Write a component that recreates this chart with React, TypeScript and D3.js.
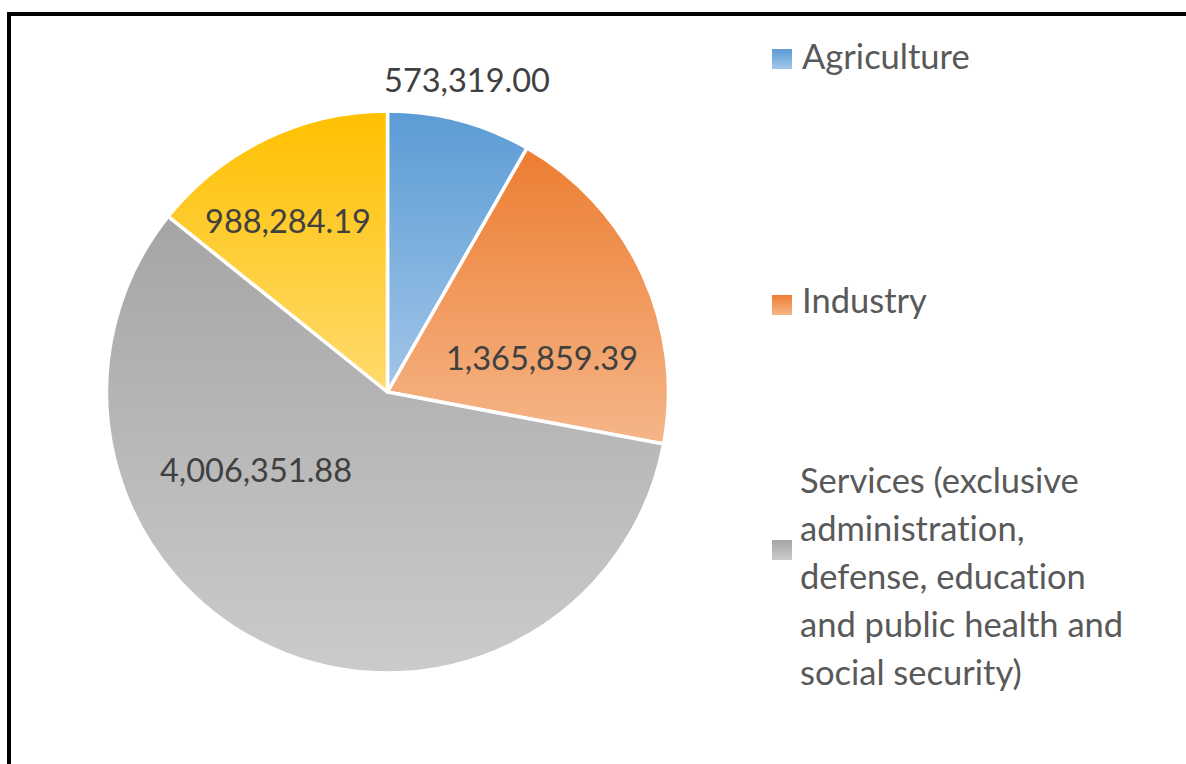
import React from "react";
import * as d3 from "d3";

const categories = [
  "Agriculture",
  "Industry",
  "Services (exclusive administration, defense, education and public health and social security)",
  "Administration, defense, education and public health and social security",
];
const values = [573319.0, 1365859.39, 4006351.88, 988284.19];
const valueLabels = ["573,319.00", "1,365,859.39", "4,006,351.88", "988,284.19"];
const topColors = ["#5B9BD5", "#ED7D31", "#A5A5A5", "#FFC000"];
const bottomColors = ["#A2C6E8", "#F5B689", "#CBCBCB", "#FFDB6E"];
const legendCount = 3;
const servicesLines = [
  "Services (exclusive",
  "administration,",
  "defense, education",
  "and public health and",
  "social security)",
];

const W = 1186;
const H = 764;
const cx = 387.5;
const cy = 392;
const R = 281;

// label anchor positions (centre x, baseline y)
const labelPos: [number, number][] = [
  [467, 92],
  [542, 370],
  [256, 482],
  [288, 233],
];

export default function App() {
  const pie = d3
    .pie<number>()
    .sort(null)
    .value((d) => d)
    .startAngle(0)
    .endAngle(2 * Math.PI);
  const arcs = pie(values);
  const arcGen = d3.arc<d3.PieArcDatum<number>>().innerRadius(0).outerRadius(R);

  const font = "Lato, 'Open Sans', sans-serif";

  return (
    <svg
      width={W}
      height={H}
      style={{
        position: "absolute",
        left: 0,
        top: 0,
        background: "#fff",
        fontVariantLigatures: "none",
      }}
    >
      <defs>
        {arcs.map((a, i) => (
          <linearGradient key={i} id={`g${i}`} x1="0" y1="0" x2="0" y2="1">
            <stop offset="0" stopColor={topColors[i]} />
            <stop offset="1" stopColor={bottomColors[i]} />
          </linearGradient>
        ))}
      </defs>
      <rect x={0} y={0} width={W} height={H} fill="#fff" />
      {/* frame */}
      <path d={`M9,${H + 10} V14 H${W + 10}`} fill="none" stroke="#000" strokeWidth={4} />

      <g transform={`translate(${cx},${cy})`}>
        {arcs.map((a, i) => (
          <path
            key={i}
            d={arcGen(a) || ""}
            fill={`url(#g${i})`}
            stroke="#fff"
            strokeWidth={3.5}
            strokeLinejoin="round"
          />
        ))}
      </g>

      {arcs.map((a, i) => (
        <text
          key={i}
          x={labelPos[i][0]}
          y={labelPos[i][1]}
          textAnchor="middle"
          fontFamily={font}
          fontSize={32.5}
          fill="#404040"
        >
          {valueLabels[i]}
        </text>
      ))}

      {/* legend */}
      <g fontFamily={font} fontSize={34.5} fill="#595959">
        <rect x={772} y={49} width={20} height={20} fill={`url(#g0)`} />
        <text x={802} y={69}>{categories[0]}</text>
        <rect x={772} y={295} width={20} height={20} fill={`url(#g1)`} />
        <text x={802} y={313}>{categories[1]}</text>
        {legendCount > 2 && (
          <>
            <rect x={772} y={540} width={20} height={20} fill={`url(#g2)`} />
            {servicesLines.map((l, k) => (
              <text key={k} x={800} y={493 + k * 48}>
                {l}
              </text>
            ))}
          </>
        )}
      </g>
    </svg>
  );
}
